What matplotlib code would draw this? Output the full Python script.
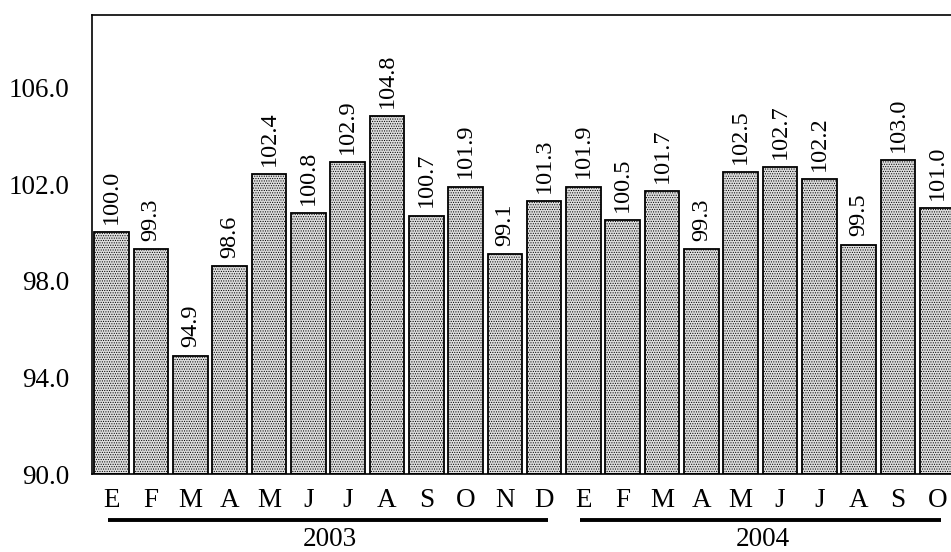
import matplotlib
matplotlib.use('Agg')
import matplotlib.pyplot as plt
import numpy as np

plt.rcParams['font.family'] = ['Liberation Serif', 'DejaVu Serif']
plt.rcParams['hatch.color'] = '#9a9a9a'
plt.rcParams['hatch.linewidth'] = 0.5

months = ['E', 'F', 'M', 'A', 'M', 'J', 'J', 'A', 'S', 'O', 'N', 'D',
          'E', 'F', 'M', 'A', 'M', 'J', 'J', 'A', 'S', 'O']
values_2003 = [100.0, 99.3, 94.9, 98.6, 102.4, 100.8, 102.9, 104.8, 100.7, 101.9, 99.1, 101.3]
values_2004 = [101.9, 100.5, 101.7, 99.3, 102.5, 102.7, 102.2, 99.5, 103.0, 101.0]
years = ['2003', '2004']
yticks = [90.0, 94.0, 98.0, 102.0, 106.0]

values = values_2003 + values_2004
x = np.arange(len(values))
base = 90.0

fig = plt.figure(figsize=(9.51, 5.52), dpi=100)
ax = fig.add_axes([92/951, 78/552, 865/951, 459/552])

ax.bar(x, np.array(values) - base, bottom=base, width=0.88,
       facecolor='#dedede', edgecolor='black', linewidth=1.3, hatch='.......')

for xi, v in zip(x, values):
    ax.annotate(f'{v:.1f}', (xi, v), xytext=(0, 6), textcoords='offset points',
                rotation=90, ha='center', va='bottom', fontsize=17.5,
                annotation_clip=False)

ax.set_xlim(-0.5, 21.5)
ax.set_ylim(90, 109)
ax.set_yticks(yticks)
ax.set_yticklabels([f'{t:.1f}' for t in yticks])
ax.tick_params(axis='y', length=0, pad=16, labelsize=19.5)
ax.set_xticks(x)
ax.set_xticklabels(months)
ax.tick_params(axis='x', length=0, pad=10, labelsize=19.5)
ax.spines['right'].set_visible(False)
for s in ['left', 'top', 'bottom']:
    ax.spines[s].set_linewidth(1.2)

# year brackets under month labels
trans = ax.get_xaxis_transform()
groups = [(0, len(values_2003) - 1), (len(values_2003), len(values) - 1)]
for (a, b), yr in zip(groups, years):
    ax.plot([a - 0.1, b + 0.1], [-0.1, -0.1], color='black', lw=2.8,
            transform=trans, clip_on=False, solid_capstyle='butt')
    ax.text((a + b) / 2 + 0.05, -0.143, yr, transform=trans, ha='center',
            va='center', fontsize=19.5)

fig.savefig('out.png', dpi=100)
